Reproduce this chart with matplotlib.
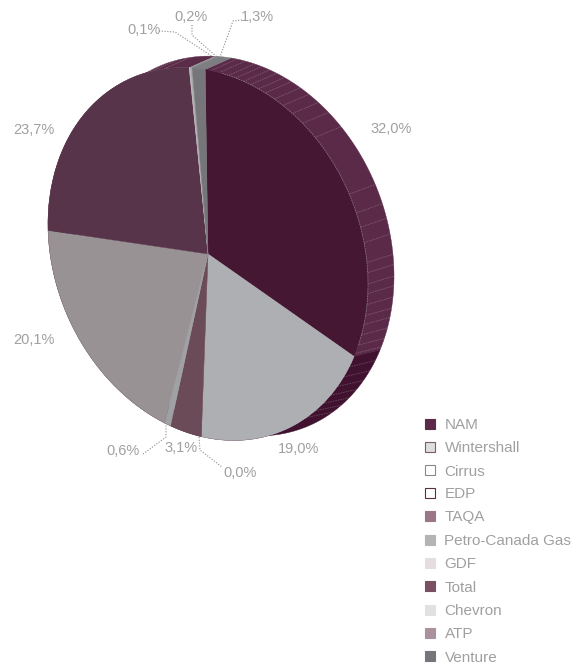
import numpy as np
import matplotlib
matplotlib.use('Agg')
import matplotlib.pyplot as plt
from matplotlib.patches import Polygon
from matplotlib.transforms import Affine2D
plt.rcParams['font.family'] = ['Liberation Sans', 'DejaVu Sans']

# slices, clockwise from the top
shares = [32.0, 19.0, 0.0, 3.1, 0.6, 20.1, 23.7, 0.1, 0.2, 1.3]
share_labels = ['32,0%', '19,0%', '0,0%', '3,1%', '0,6%', '20,1%', '23,7%', '0,1%', '0,2%', '1,3%']
top_colors = ['#451733', '#aeafb3', '#8a6a78', '#6b4b58', '#a0a1a4', '#999294', '#58344a', '#c6c6c9', '#a6a6aa', '#75757a']
side_colors = ['#5a2a48', '#40122f', '#40122f', '#40122f', '#40122f', '#40122f', '#5a2c48', '#9a9a9e', '#8e8e92', '#7d7d82']

companies = ['NAM', 'Wintershall', 'Cirrus', 'EDP', 'TAQA', 'Petro-Canada Gas', 'GDF', 'Total', 'Chevron', 'ATP', 'Venture']
company_fill = ['#5a2a48', '#dedede', '#ffffff', '#ffffff', '#9a7686', '#b4b4b6', '#e5dde1', '#7b4f62', '#e1e1e3', '#ab909d', '#76767a']
company_edge = ['#5a2a48', '#7d5a6c', '#888888', '#5a2a48', '#9a7686', '#b4b4b6', '#e5dde1', '#7b4f62', '#e1e1e3', '#ab909d', '#76767a']

# angles (deg clockwise from top) where the ribs on the side sit
rib_angles = [-36, -31, -26, -21, -16, 1, 4, 7.4, 10, 12.9, 15.4, 18.4, 21, 24.5, 27.9, 31.8, 36.2, 42, 62, 68,
              72.5, 77.3, 83.4, 86.5, 90, 93, 96.5, 100, 103, 106.5, 110, 113, 118, 122, 126, 130, 134, 138, 142]

label_pos = [(391, 129), (299, 449), (240, 473), (181, 448), (123, 451), (34, 340), (34, 130), (144, 30), (191, 17), (257, 17)]
leaders = {
    '0,1%': [(159, 31), (175, 32), (213, 57)],
    '0,2%': [(192, 25), (192, 35), (217, 57)],
    '1,3%': [(242, 20), (233, 21), (220, 57)],
    '0,6%': [(143, 454), (166, 437), (166, 425)],
    '0,0%': [(199, 437), (200, 450), (222, 467)],
}
legend_y = [423.5, 446.5, 470, 493, 516, 539.5, 563, 586, 609.5, 633, 656]

text_grey = '#a0a0a0'
shift = (26, -11.5)

# tilted ellipse of the top face, as a matrix on the unit circle
face = Affine2D(np.array([[160.0, 0, 208], [30, -184, 254], [0, 0, 1]]))


def rim(t_deg):
    t = np.radians(t_deg)
    return face.transform(np.column_stack([np.sin(t), np.cos(t)]))


def outer(t_deg):
    # the far edge sags a little towards the bottom of the disc
    sag = 7 * (1 - np.cos(np.radians(t_deg))) / 2
    return rim(t_deg) + shift + np.column_stack([np.zeros_like(sag), sag])


fig = plt.figure(figsize=(5.82, 6.66), dpi=100)
ax = fig.add_axes([0, 0, 1, 1])

start = -1.0
edges = start + np.cumsum([0] + shares) * 360 / sum(shares)

# side bands first
for i in range(len(shares)):
    tt = np.linspace(edges[i], edges[i + 1], 80)
    ax.add_patch(Polygon(np.vstack([rim(tt), outer(tt)[::-1]]), closed=True,
                         fc=side_colors[i], ec=side_colors[i], lw=0.3, zorder=1))

for a in rib_angles:
    p = rim(np.array([a]))[0]
    q = outer(np.array([a]))[0]
    ax.plot([p[0], q[0]], [p[1], q[1]], color='#ffffff', alpha=0.22, lw=0.6, ls=(0, (2, 1)), zorder=2)

wedges, _ = ax.pie(shares, colors=top_colors, startangle=90 - start, counterclock=False,
                   wedgeprops={'linewidth': 0.3})
for w, c in zip(wedges, top_colors):
    w.set_transform(face + ax.transData)
    w.set_edgecolor(c)
    w.set_zorder(3)

# thin light line along the rim of the big slice
arc = rim(np.linspace(5, 110, 120))
ax.plot(arc[:, 0], arc[:, 1], color='#ffffff', alpha=0.3, lw=0.6, ls=(0, (2, 1)), zorder=4)

ax.set_aspect('auto')
ax.set_xlim(0, 582)
ax.set_ylim(666, 0)
ax.axis('off')

for name, (x, y) in zip(share_labels, label_pos):
    ax.text(x, y, name, color=text_grey, fontsize=10.5, ha='center', va='center')

for pts in leaders.values():
    xs, ys = zip(*pts)
    ax.plot(xs, ys, color='#8c8c8c', lw=0.8, ls=(0, (1, 1.5)), zorder=5)

for name, fill, edge, y in zip(companies, company_fill, company_edge, legend_y):
    ax.plot([430], [y], marker='s', ms=6.6, mfc=fill, mec=edge, mew=0.8, ls='none')
    ax.text(444.5, y + 1.5, name, color=text_grey, fontsize=11, ha='left', va='center')

fig.savefig('out.png', dpi=100)
